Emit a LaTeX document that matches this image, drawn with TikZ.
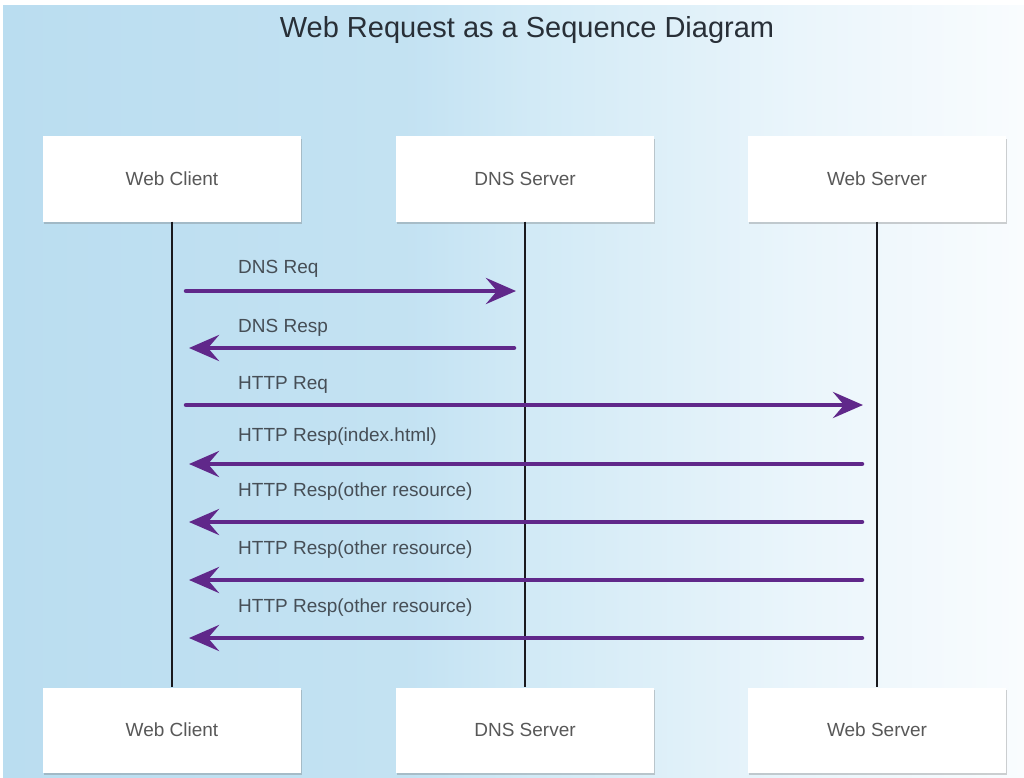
\documentclass[tikz,border=0pt]{standalone}
\usepackage{fontspec}
\setmainfont{Liberation Sans}
\usetikzlibrary{arrows.meta,shadows}
\definecolor{arrowpurple}{RGB}{96,40,138}
\definecolor{bgblue}{RGB}{186,221,240}
\definecolor{bgmid}{RGB}{210,234,246}
\definecolor{bglight}{RGB}{234,245,251}
\definecolor{bgend}{RGB}{249,252,254}
\definecolor{labelgray}{RGB}{88,88,88}
\definecolor{msggray}{RGB}{70,78,86}
\definecolor{titlegray}{RGB}{40,47,55}
\definecolor{lifecol}{RGB}{25,25,30}
\pgfdeclarehorizontalshading{webbg}{100bp}{color(0bp)=(bgblue); color(25bp)=(bgblue); color(45bp)=(bgblue!60!bgmid); color(51bp)=(bgmid); color(64bp)=(bglight); color(75bp)=(bgend); color(100bp)=(bgend)}
\begin{document}
\begin{tikzpicture}[x=1pt,y=-1pt,
  actor/.style={rectangle, fill=white, minimum width=258pt, minimum height=85pt,
    inner sep=0pt, text=labelgray, font=\fontsize{19}{22}\selectfont,
    drop shadow={shadow xshift=1pt, shadow yshift=-2.5pt, opacity=0.3, fill=black!60}},
  lifeline/.style={draw=lifecol, line width=2.5pt},
  msg/.style={draw=arrowpurple, line width=4.5pt, line cap=round,
    -{Stealth[length=30pt, width=26pt, inset=11pt]}},
  msglabel/.style={anchor=base west, inner sep=0pt, text=msggray, font=\fontsize{19}{22}\selectfont},
  titlestyle/.style={anchor=base, inner sep=0pt, text=titlegray, font=\fontsize{29}{34}\selectfont}
]
\useasboundingbox (0,0) rectangle (1024,778);
\fill[white] (0,0) rectangle (1024,778);
\shade[shading=webbg] (3,6) rectangle (1024,778);

\node[titlestyle] (title) at (527,38) {Web Request as a Sequence Diagram};

% actors
\node[actor] (wc)  at (172,179) {Web Client};
\node[actor] (dns) at (525,179) {DNS Server};
\node[actor] (ws)  at (877,179) {Web Server};
\node[actor] (wcb)  at (172,730) {Web Client};
\node[actor] (dnsb) at (525,730) {DNS Server};
\node[actor] (wsb)  at (877,730) {Web Server};

% lifelines
\draw[lifeline] (wc.south) -- (wcb.north);
\draw[lifeline] (dns.south) -- (dnsb.north);
\draw[lifeline] (ws.south) -- (wsb.north);

% message end points
\coordinate (m1a) at (186,291); \coordinate (m1b) at (516,291);
\coordinate (m2a) at (514,348); \coordinate (m2b) at (189,348);
\coordinate (m3a) at (186,405); \coordinate (m3b) at (863,405);
\coordinate (m4a) at (862,464); \coordinate (m4b) at (189,464);
\coordinate (m5a) at (862,522); \coordinate (m5b) at (189,522);
\coordinate (m6a) at (862,580); \coordinate (m6b) at (189,580);
\coordinate (m7a) at (862,638); \coordinate (m7b) at (189,638);

% labels
\node[msglabel] (l1) at (238,273) {DNS Req};
\node[msglabel] (l2) at (238,332) {DNS Resp};
\node[msglabel] (l3) at (238,389) {HTTP Req};
\node[msglabel] (l4) at (238,441) {HTTP Resp(index.html)};
\node[msglabel] (l5) at (238,496) {HTTP Resp(other resource)};
\node[msglabel] (l6) at (238,554) {HTTP Resp(other resource)};
\node[msglabel] (l7) at (238,612) {HTTP Resp(other resource)};

% messages
\draw[msg] (m1a) -- (m1b);
\draw[msg] (m2a) -- (m2b);
\draw[msg] (m3a) -- (m3b);
\draw[msg] (m4a) -- (m4b);
\draw[msg] (m5a) -- (m5b);
\draw[msg] (m6a) -- (m6b);
\draw[msg] (m7a) -- (m7b);
\end{tikzpicture}
\end{document}
